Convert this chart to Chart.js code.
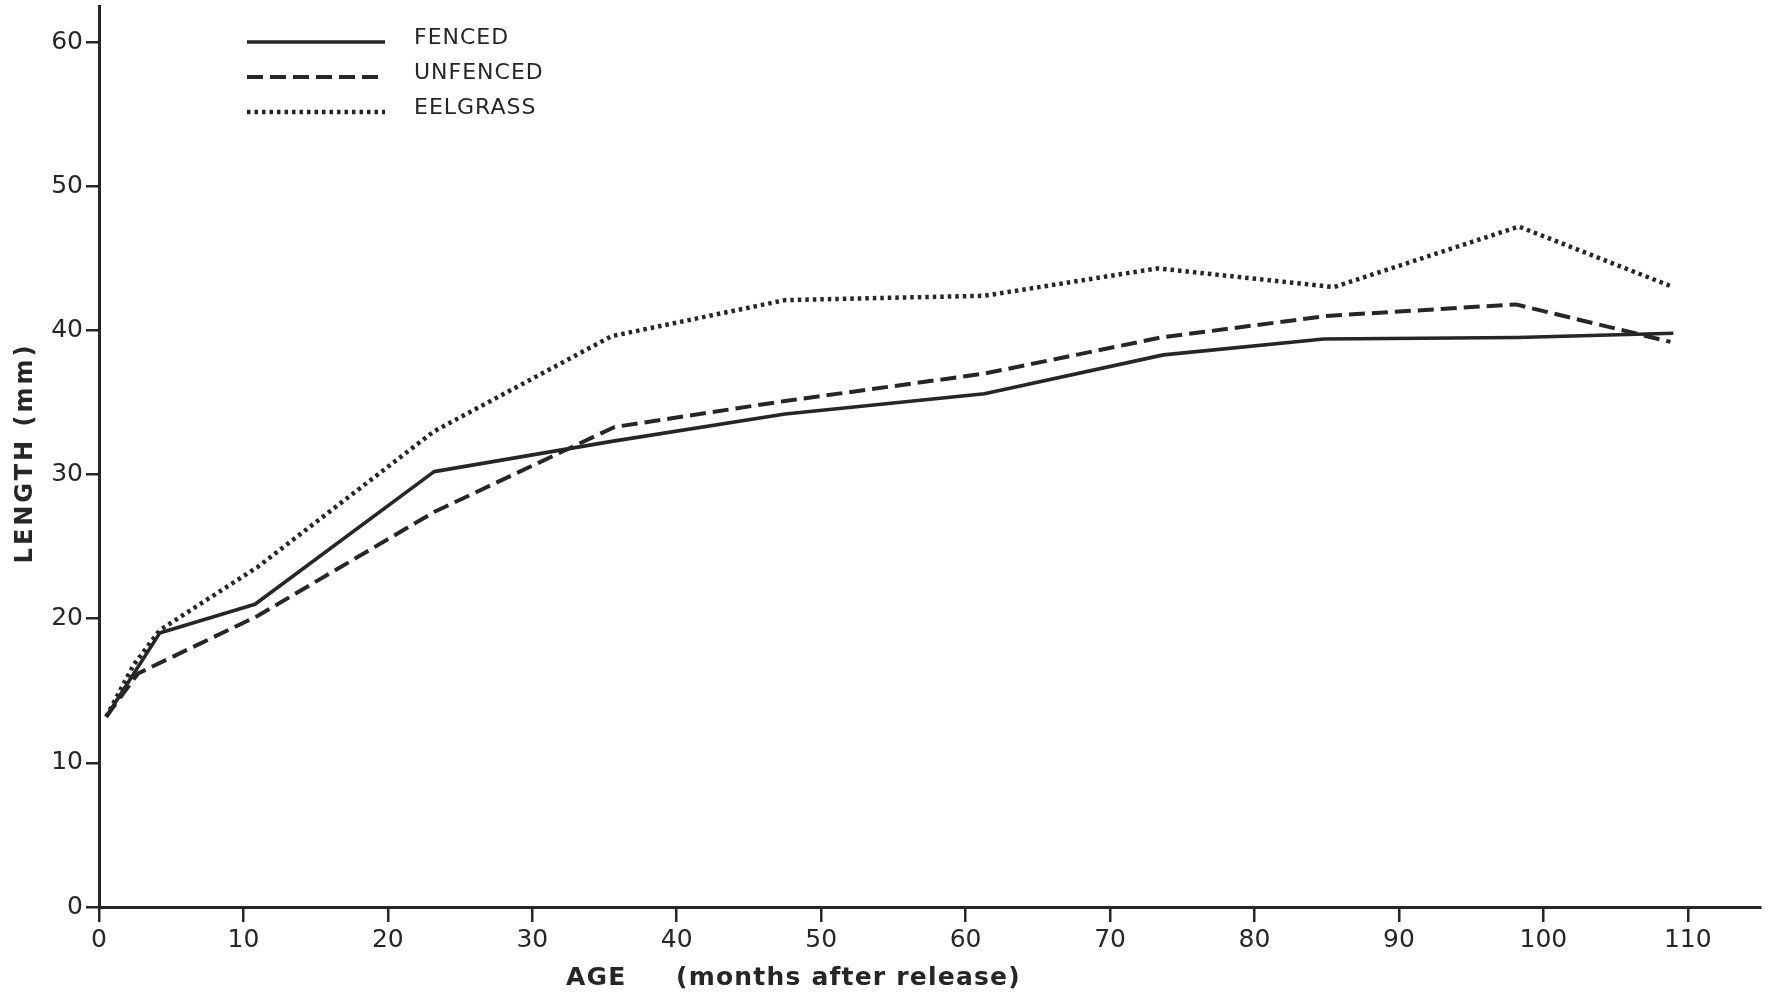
<!DOCTYPE html>
<html>
<head>
<meta charset="utf-8">
<style>
  html, body { margin: 0; padding: 0; background: #ffffff; }
  #wrap { width: 1775px; height: 997px; }
</style>
<script src="https://cdn.jsdelivr.net/npm/chart.js@4.4.1/dist/chart.umd.min.js"></script>
</head>
<body>
<div id="wrap"><canvas id="c" width="1775" height="997"></canvas></div>
<script>
// ---- data ----
const seriesNames = ['FENCED', 'UNFENCED', 'EELGRASS'];
const fencedMonths   = [0.5, 4.2, 10.8, 23.2, 35.5, 47.5, 61.3, 73.7, 84.8, 98.2, 109];
const fencedLength   = [13.2, 19.0, 21.0, 30.2, 32.3, 34.2, 35.6, 38.3, 39.4, 39.5, 39.8];
const unfencedMonths = [0.5, 2.7, 11, 23.2, 35.7, 47.5, 61.3, 73.5, 85, 98.1, 108.8];
const unfencedLength = [13.2, 16.2, 20.2, 27.4, 33.3, 35.1, 37.0, 39.5, 41.0, 41.8, 39.2];
const eelMonths      = [0.5, 2.4, 4.2, 11, 23.2, 35.5, 47.5, 61.3, 73.3, 85.5, 98.3, 109];
const eelLength      = [13.2, 16.8, 19.2, 23.6, 33.0, 39.6, 42.1, 42.4, 44.3, 43.0, 47.2, 43.0];
const xTickValues = [0, 10, 20, 30, 40, 50, 60, 70, 80, 90, 100, 110];
const yTickValues = [0, 10, 20, 30, 40, 50, 60];
const xTitleA = 'AGE';
const xTitleB = '(months after release)';
const yTitle = 'LENGTH (mm)';

const ink = '#262626';
const toPts = (xs, ys) => xs.map((x, i) => ({ x: x, y: ys[i] }));

const styles = [
  { borderDash: [], borderWidth: 3.6 },
  { borderDash: [16, 7], borderWidth: 4 },
  { borderDash: [3.5, 4], borderWidth: 4.5 }
];

const datasets = [
  toPts(fencedMonths, fencedLength),
  toPts(unfencedMonths, unfencedLength),
  toPts(eelMonths, eelLength)
].map((d, i) => ({
  label: seriesNames[i],
  data: d,
  borderColor: ink,
  backgroundColor: ink,
  borderWidth: styles[i].borderWidth,
  borderDash: styles[i].borderDash,
  borderCapStyle: 'butt',
  borderJoinStyle: 'round',
  pointRadius: 0,
  tension: 0,
  fill: false
}));

const annot = {
  id: 'annot',
  afterDraw(chart) {
    const ctx = chart.ctx;
    ctx.save();
    // legend
    const legY = [42, 77, 112];
    const lx0 = 247, lx1 = 385, tx = 414;
    chart.data.datasets.forEach((ds, i) => {
      ctx.save();
      ctx.strokeStyle = ink;
      ctx.lineWidth = ds.borderWidth;
      ctx.setLineDash(ds.borderDash);
      ctx.lineCap = 'butt';
      ctx.beginPath();
      ctx.moveTo(lx0, legY[i]);
      ctx.lineTo(lx1, legY[i]);
      ctx.stroke();
      ctx.restore();
      ctx.fillStyle = ink;
      ctx.font = '22px "DejaVu Sans"';
      ctx.letterSpacing = '1px';
      ctx.textBaseline = 'middle';
      ctx.textAlign = 'left';
      ctx.fillText(ds.label, tx, legY[i] - 4);
    });
    // x title
    ctx.letterSpacing = '1.2px';
    ctx.font = 'bold 25px "DejaVu Sans"';
    ctx.textBaseline = 'middle';
    ctx.textAlign = 'left';
    ctx.fillStyle = ink;
    ctx.fillText(xTitleA, 566, 978);
    ctx.fillText(xTitleB, 676, 978);
    // y title
    ctx.save();
    ctx.translate(26, 453);
    ctx.rotate(-Math.PI / 2);
    ctx.textAlign = 'center';
    ctx.letterSpacing = '3px';
    ctx.font = 'bold 24px "DejaVu Sans"';
    ctx.fillText(yTitle, 0, 0);
    ctx.restore();
    ctx.restore();
  }
};

new Chart(document.getElementById('c'), {
  type: 'line',
  data: { datasets: datasets },
  plugins: [annot],
  options: {
    responsive: false,
    animation: false,
    layout: { padding: { left: 0, right: 15, top: 6, bottom: 0 } },
    plugins: { legend: { display: false }, tooltip: { enabled: false } },
    scales: {
      x: {
        type: 'linear',
        min: 0, max: 115,
        afterBuildTicks: (s) => { s.ticks = xTickValues.map(v => ({ value: v })); },
        afterFit: (s) => { s.height = 90; s.paddingLeft = 0; s.paddingRight = 0; },
        grid: { drawOnChartArea: false, drawTicks: true, tickLength: 15, color: ink, lineWidth: 2.5 },
        border: { display: true, color: ink, width: 3 },
        ticks: { color: ink, font: { family: 'DejaVu Sans', size: 25 }, padding: 3, maxRotation: 0, autoSkip: false }
      },
      y: {
        type: 'linear',
        min: 0, max: 62.5,
        afterBuildTicks: (s) => { s.ticks = yTickValues.map(v => ({ value: v })); },
        afterFit: (s) => { s.width = 99; s.paddingTop = 0; s.paddingBottom = 0; },
        grid: { drawOnChartArea: false, drawTicks: true, tickLength: 13, color: ink, lineWidth: 2.5 },
        border: { display: true, color: ink, width: 3 },
        ticks: { color: ink, font: { family: 'DejaVu Sans', size: 25 }, padding: 3, autoSkip: false }
      }
    }
  }
});
</script>
</body>
</html>
